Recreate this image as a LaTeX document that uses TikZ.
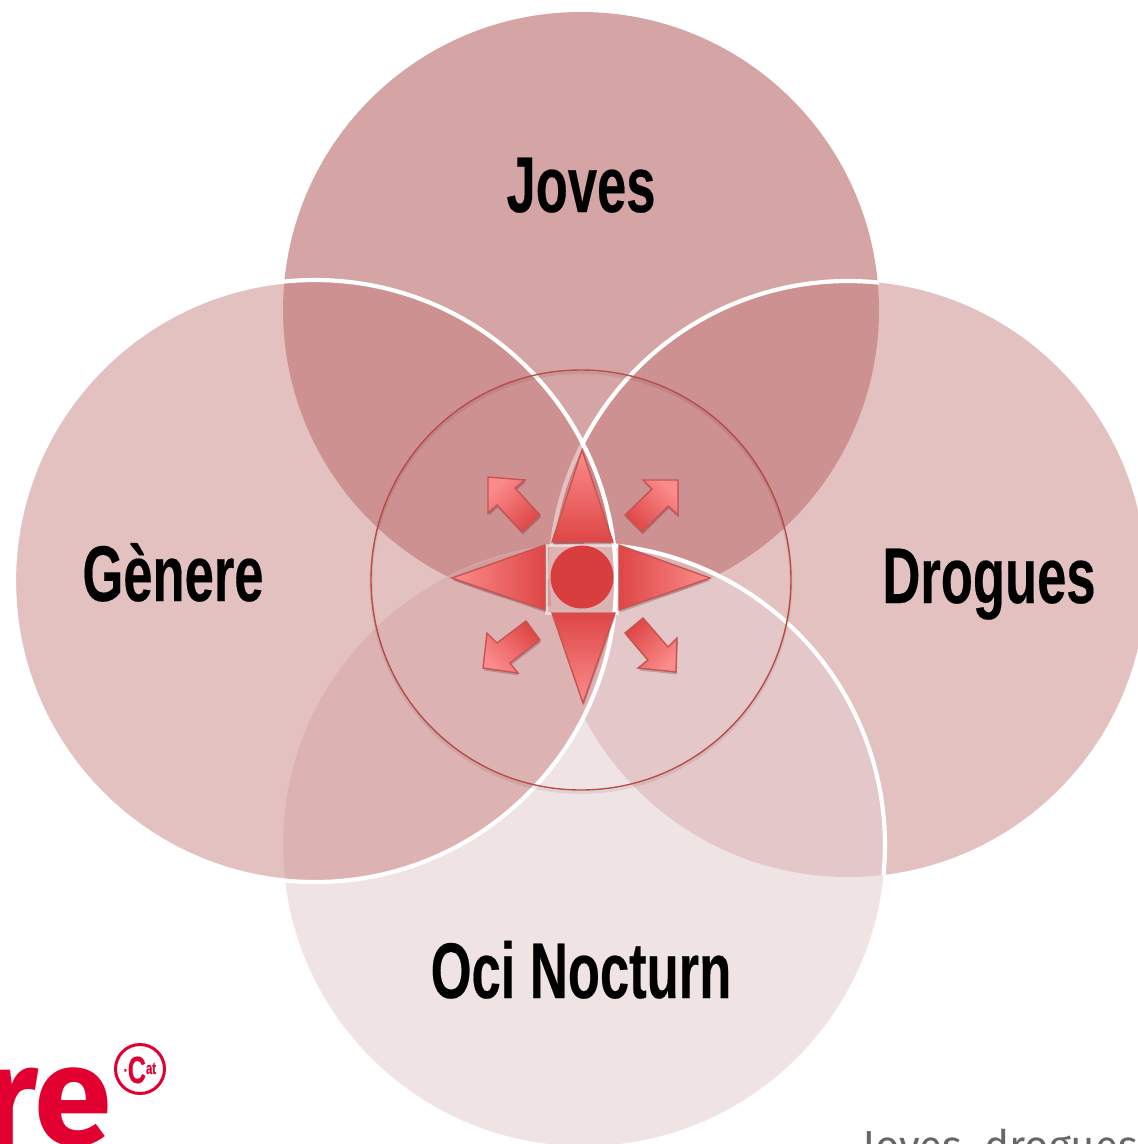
\documentclass[tikz,border=0pt]{standalone}
\usepackage{fontspec}
\setmainfont{Fira Sans}
\newfontfamily\labelfont{Liberation Sans}[FakeStretch=0.665,BoldFeatures={FakeBold=0.25}]
\usetikzlibrary{calc}
\definecolor{vennJ}{RGB}{195,126,126}
\definecolor{vennS}{RGB}{198,123,123}
\definecolor{vennO}{RGB}{229,205,207}
\definecolor{vennGO}{RGB}{220,178,178}
\definecolor{starlight}{RGB}{252,140,140}
\definecolor{stardark}{RGB}{222,70,70}
\definecolor{starcore}{RGB}{216,62,62}
\definecolor{starline}{RGB}{200,84,82}
\definecolor{ringline}{RGB}{185,75,73}
\definecolor{logored}{RGB}{226,0,48}
\tikzset{
  whiteedge/.style={draw=white,line width=4.2pt},
  vennlabel/.style={font=\labelfont\bfseries\fontsize{79}{79}\selectfont,text=black,inner sep=0pt,anchor=base},
  softshadow/.style={preaction={fill=black,fill opacity=.2,draw=none,transform canvas={xshift=.8pt,yshift=-2.4pt}}},
  starpart/.style={draw=starline,line width=1.4pt,line join=miter,softshadow},
}
\begin{document}
\begin{tikzpicture}[x=1pt,y=-1pt]
\useasboundingbox (0,0) rectangle (1138,1144);
\clip (0,0) rectangle (1138,1144);
\coordinate (cJ) at (581,310);
\coordinate (cG) at (315,581);
\coordinate (cD) at (848,579);
\coordinate (cO) at (584,845);
\coordinate (cC) at (581,580);
% circles
\fill[vennJ,fill opacity=.7] (cJ) circle[radius=298];
\fill[vennS,fill opacity=.47] (cD) circle[radius=298];
\draw[whiteedge] (cD) ++(-84:298) arc[start angle=-84,end angle=-180,radius=298];
\fill[vennO,fill opacity=.57] (cO) circle[radius=301];
\draw[whiteedge] ($(cO)+(0,-301)$) arc[start angle=-90,end angle=5.7,radius=301];
\draw[draw=white,line width=1.5pt,opacity=.3] ($(cO)+(0,-301)$) arc[start angle=-90,end angle=-150,radius=301];
\fill[vennS,fill opacity=.47] (cG) circle[radius=301];
% the lens below the centre shows no edge of the Drogues circle
\begin{scope}
  \clip (cG) circle[radius=301];
  \clip (cO) circle[radius=301];
  \fill[vennGO] (cD) circle[radius=298];
\end{scope}
\draw[whiteedge] (cG) circle[radius=301];
% ring
\draw[draw=black,opacity=.07,line width=3pt] (581,582.5) circle[radius=210];
\draw[draw=ringline,line width=1.4pt] (cC) circle[radius=210];
% centre frame
\draw[draw=white,opacity=.5,line width=3pt] (546,545) rectangle (617,613);
% star
\path[starpart,top color=starlight,bottom color=stardark] (582,450) -- (613,542) -- (552,542) -- cycle;
\path[starpart,top color=stardark,bottom color=starlight] (552,613) -- (615,613) -- (583,703) -- cycle;
\path[starpart,left color=starlight,right color=stardark] (452,578) -- (545,545) -- (545,610) -- cycle;
\path[starpart,left color=stardark,right color=starlight] (619,545) -- (710,578) -- (619,610) -- cycle;
\fill[starcore] (582,577) circle[radius=31.5];
% arrows
\path[starpart,top color=starlight,bottom color=stardark,shading angle=45]
 (488,477) -- (525,480) -- (515,488) -- (540,515) -- (522,532) -- (497,505) -- (488,513) -- cycle;
\path[starpart,top color=starlight,bottom color=stardark,shading angle=-45]
 (678,480) -- (643,480) -- (652,489) -- (625,515) -- (642,532) -- (668,506) -- (678,515) -- cycle;
\path[starpart,top color=starlight,bottom color=stardark,shading angle=135]
 (483,668) -- (518,673) -- (510,663) -- (540,640) -- (526,621) -- (497,643) -- (487,633) -- cycle;
\path[starpart,top color=starlight,bottom color=stardark,shading angle=-135]
 (676,672) -- (638,668) -- (648,660) -- (625,633) -- (643,618) -- (668,647) -- (677,638) -- cycle;
% labels
\node[vennlabel] (joves) at (581,212) {Joves};
\node[vennlabel] (genere) at (173,601) {Gènere};
\node[vennlabel] (drogues) at (989,603) {Drogues};
\node[vennlabel] (oci) at (581,998) {Oci Nocturn};
% logo, cut by the page edge
\node[anchor=base west,inner sep=0pt,text=logored,font=\bfseries\fontsize{140}{140}\selectfont] (logo) at (-18,1144) {re};
\draw[draw=logored,line width=3pt] (140,1069) circle[radius=24.5];
\node[inner sep=0pt,anchor=base,text=logored,font=\labelfont\bfseries\fontsize{17}{17}\selectfont] (cat) at (140,1083) {\raisebox{7pt}{·}{\fontsize{38}{38}\selectfont C}\raisebox{9pt}{at}};
% footer, cut by the page edge
\node[anchor=base west,inner sep=0pt,text=black!60,font=\fontsize{42}{42}\selectfont] (footer) at (862,1160) {Joves\ \ drogues};
\end{tikzpicture}
\end{document}
